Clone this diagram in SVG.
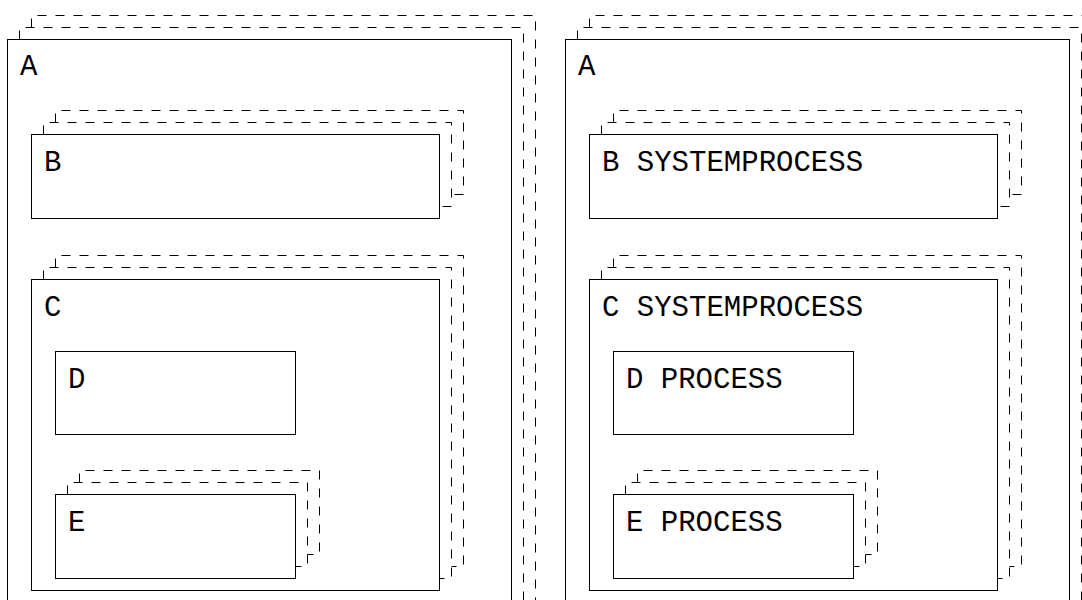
<svg xmlns="http://www.w3.org/2000/svg" width="1082" height="600" viewBox="0 0 1082 600">
<style>
.front{fill:#fff;stroke:#000;stroke-width:1}
.back{fill:#fff;stroke:#000;stroke-width:1;stroke-dasharray:9,9}
.lbl{font-family:"Liberation Mono","Courier New",monospace;font-size:29px;fill:#000}
</style>
<rect width="1082" height="600" fill="#fff"/>
<g id="left-panel">
  <g id="A1">
    <path class="back" d="M31.5,27.5 V15.5 H535.5 V640 H31.5 Z"/>
    <path class="back" d="M19.5,39.5 V27.5 H523.5 V640 H19.5 Z"/>
    <rect class="front" x="7.5" y="39.5" width="504" height="600"/>
    <text class="lbl" x="20" y="75">A</text>
  </g>
  <g id="B1">
    <path class="back" d="M55.5,122.5 V110.5 H463.5 V194.5 H55.5 Z"/>
    <path class="back" d="M43.5,134.5 V122.5 H451.5 V206.5 H43.5 Z"/>
    <rect class="front" x="31.5" y="134.5" width="408" height="84"/>
    <text class="lbl" x="44" y="171">B</text>
  </g>
  <g id="C1">
    <path class="back" d="M55.5,267.5 V255.5 H463.5 V566.5 H55.5 Z"/>
    <path class="back" d="M43.5,279.5 V267.5 H451.5 V578.5 H43.5 Z"/>
    <rect class="front" x="31.5" y="279.5" width="408" height="311"/>
    <text class="lbl" x="44" y="316">C</text>
  </g>
  <g id="D1">
    <rect class="front" x="55.5" y="351.5" width="240" height="83"/>
    <text class="lbl" x="68" y="388">D</text>
  </g>
  <g id="E1">
    <path class="back" d="M79.5,482.5 V470.5 H319.5 V554.5 H79.5 Z"/>
    <path class="back" d="M67.5,494.5 V482.5 H307.5 V566.5 H67.5 Z"/>
    <rect class="front" x="55.5" y="494.5" width="240" height="84"/>
    <text class="lbl" x="68" y="531">E</text>
  </g>
</g>
<g id="right-panel" transform="translate(558,0)">
  <g id="A2">
    <path class="back" d="M31.5,27.5 V15.5 H535.5 V640 H31.5 Z"/>
    <path class="back" d="M19.5,39.5 V27.5 H523.5 V640 H19.5 Z"/>
    <rect class="front" x="7.5" y="39.5" width="504" height="600"/>
    <text class="lbl" x="20" y="75">A</text>
  </g>
  <g id="B2">
    <path class="back" d="M55.5,122.5 V110.5 H463.5 V194.5 H55.5 Z"/>
    <path class="back" d="M43.5,134.5 V122.5 H451.5 V206.5 H43.5 Z"/>
    <rect class="front" x="31.5" y="134.5" width="408" height="84"/>
    <text class="lbl" x="44" y="171">B SYSTEMPROCESS</text>
  </g>
  <g id="C2">
    <path class="back" d="M55.5,267.5 V255.5 H463.5 V566.5 H55.5 Z"/>
    <path class="back" d="M43.5,279.5 V267.5 H451.5 V578.5 H43.5 Z"/>
    <rect class="front" x="31.5" y="279.5" width="408" height="311"/>
    <text class="lbl" x="44" y="316">C SYSTEMPROCESS</text>
  </g>
  <g id="D2">
    <rect class="front" x="55.5" y="351.5" width="240" height="83"/>
    <text class="lbl" x="68" y="388">D PROCESS</text>
  </g>
  <g id="E2">
    <path class="back" d="M79.5,482.5 V470.5 H319.5 V554.5 H79.5 Z"/>
    <path class="back" d="M67.5,494.5 V482.5 H307.5 V566.5 H67.5 Z"/>
    <rect class="front" x="55.5" y="494.5" width="240" height="84"/>
    <text class="lbl" x="68" y="531">E PROCESS</text>
  </g>
</g>
</svg>
